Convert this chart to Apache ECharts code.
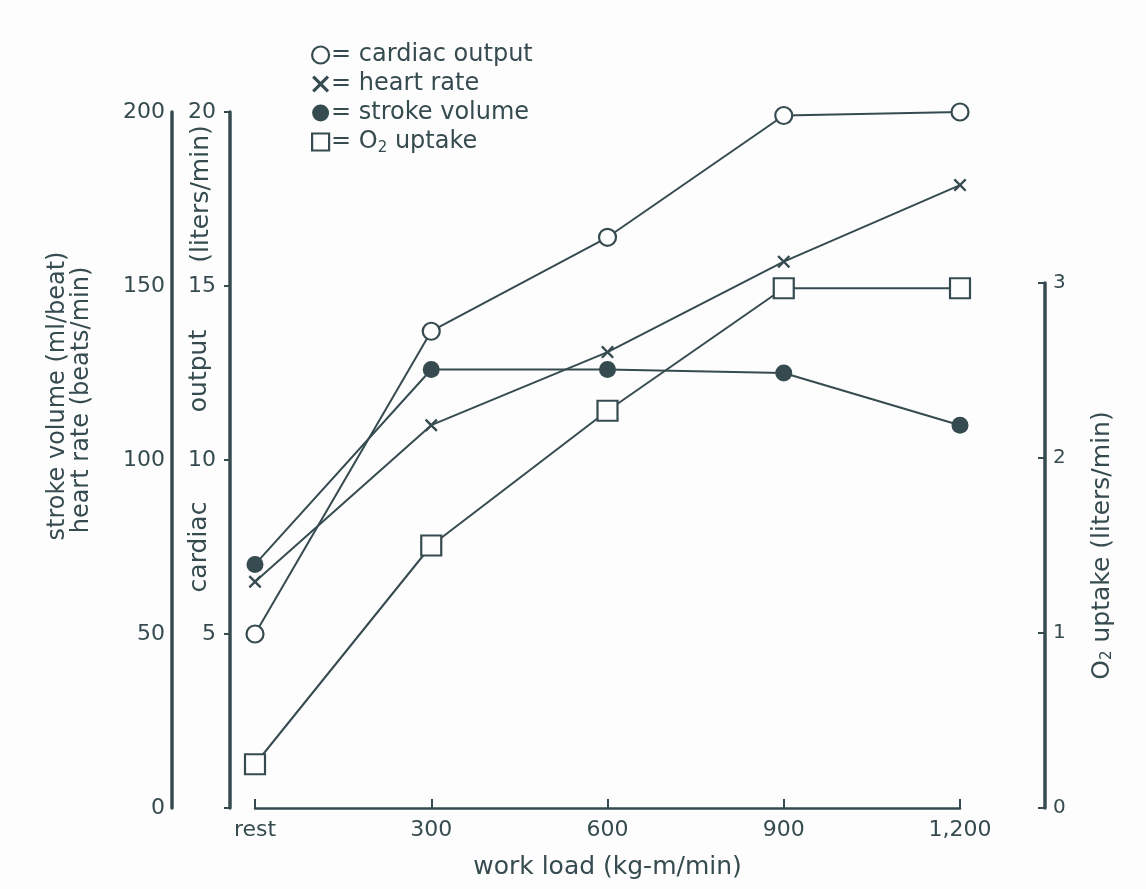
<!DOCTYPE html>
<html>
<head>
<meta charset="utf-8">
<script src="https://cdn.jsdelivr.net/npm/echarts@6/dist/echarts.min.js"></script>
<style>
html,body{margin:0;padding:0;background:#fdfdfd;}
#chart{width:1146px;height:889px;}
</style>
</head>
<body>
<div id="chart"></div>
<script>
const categories = ['rest', '300', '600', '900', '1,200'];
const cardiacOutput = [5, 13.7, 16.4, 19.9, 20];
const heartRate = [65, 110, 131, 157, 179];
const strokeVolume = [70, 126, 126, 125, 110];
const o2Uptake = [0.25, 1.5, 2.27, 2.97, 2.97];
const leftTicks = [0, 50, 100, 150, 200];
const cardiacTicks = [5, 10, 15, 20];
const o2Ticks = [0, 1, 2, 3];

const INK = '#364b50';
const FONT = '"DejaVu Sans", Verdana, sans-serif';
const crossPath = 'path://M0,1.3L1.3,0L5,3.7L8.7,0L10,1.3L6.3,5L10,8.7L8.7,10L5,6.3L1.3,10L0,8.7L3.7,5Z';

const chart = echarts.init(document.getElementById('chart'), null, {renderer: 'canvas'});

const lineStyle = {color: INK, width: 2};
const option = {
  backgroundColor: '#fdfdfd',
  animation: false,
  textStyle: {fontFamily: FONT, color: INK},
  legend: {
    orient: 'vertical',
    left: 306,
    top: 38,
    itemGap: 5,
    itemWidth: 17,
    itemHeight: 17,
    textStyle: {
      fontFamily: FONT, fontSize: 24, color: INK, padding: [0, 0, 0, -3],
      rich: {sub: {fontSize: 15, verticalAlign: 'bottom', padding: [12, 0, 0, 0], fontFamily: FONT, color: INK}}
    },
    formatter: function (name) {
      if (name === 'O2 uptake') return '= O{sub|2} uptake';
      return '= ' + name;
    },
    data: [
      {name: 'cardiac output', icon: 'circle', itemStyle: {color: '#fdfdfd', borderColor: INK, borderWidth: 2.2}},
      {name: 'heart rate', icon: crossPath, itemStyle: {color: INK, borderWidth: 0}},
      {name: 'stroke volume', icon: 'circle', itemStyle: {color: INK, borderWidth: 0}},
      {name: 'O2 uptake', icon: 'rect', itemStyle: {color: '#fdfdfd', borderColor: INK, borderWidth: 2.2}}
    ]
  },
  grid: [
    {left: 255, right: 186, top: 112, bottom: 81, containLabel: false},
    {left: 255, right: 186, top: 283, bottom: 81, containLabel: false}
  ],
  xAxis: [
    {
      type: 'category', gridIndex: 0, data: categories, boundaryGap: false,
      axisLine: {show: true, lineStyle: {color: INK, width: 2.5}},
      axisTick: {show: true, inside: true, length: 9, lineStyle: {color: INK, width: 2}},
      axisLabel: {fontFamily: FONT, fontSize: 22, color: INK, margin: 11},
      name: 'work load (kg-m/min)', nameLocation: 'middle', nameGap: 47,
      nameTextStyle: {fontFamily: FONT, fontSize: 25, color: INK}
    },
    {
      type: 'category', gridIndex: 1, data: categories, boundaryGap: false, show: false
    }
  ],
  yAxis: [
    {
      type: 'value', gridIndex: 0, position: 'left', offset: 83, min: 0, max: 200, interval: 50,
      axisLine: {show: true, lineStyle: {color: INK, width: 3.5}},
      axisTick: {show: false},
      axisLabel: {fontFamily: FONT, fontSize: 22, color: INK, margin: 7,
        formatter: v => leftTicks.includes(v) ? String(v) : ''},
      splitLine: {show: false}
    },
    {
      type: 'value', gridIndex: 0, position: 'left', offset: 25, min: 0, max: 20, interval: 5,
      axisLine: {show: true, lineStyle: {color: INK, width: 3.5}},
      axisTick: {show: true, length: 6, lineStyle: {color: INK, width: 2}},
      axisLabel: {fontFamily: FONT, fontSize: 22, color: INK, margin: 14,
        formatter: v => cardiacTicks.includes(v) ? String(v) : ''},
      splitLine: {show: false}
    },
    {
      type: 'value', gridIndex: 1, position: 'right', offset: 85, min: 0, max: 3, interval: 1,
      axisLine: {show: true, lineStyle: {color: INK, width: 3.5}},
      axisTick: {show: true, inside: true, length: 7, lineStyle: {color: INK, width: 2}},
      axisLabel: {fontFamily: FONT, fontSize: 20, color: INK, margin: 8,
        formatter: v => o2Ticks.includes(v) ? String(v) : ''},
      splitLine: {show: false},
      name: 'O{sub|2} uptake (liters/min)', nameLocation: 'middle', nameGap: 45, nameRotate: 90,
      nameTextStyle: {fontFamily: FONT, fontSize: 25, color: INK,
        rich: {sub: {fontSize: 15, fontFamily: FONT, color: INK, padding: [10, 0, 0, 0]}}}
    }
  ],
  graphic: [
    {type: 'text', x: 58, y: 396, rotation: Math.PI / 2,
      style: {text: 'stroke volume (ml/beat)', font: '24px ' + FONT, fill: INK, align: 'center', verticalAlign: 'middle'}},
    {type: 'text', x: 82, y: 400, rotation: Math.PI / 2,
      style: {text: 'heart rate (beats/min)', font: '24px ' + FONT, fill: INK, align: 'center', verticalAlign: 'middle'}},
    {type: 'text', x: 201, y: 194, rotation: Math.PI / 2,
      style: {text: '(liters/min)', font: '25px ' + FONT, fill: INK, align: 'center', verticalAlign: 'middle'}},
    {type: 'text', x: 199, y: 371, rotation: Math.PI / 2,
      style: {text: 'output', font: '25px ' + FONT, fill: INK, align: 'center', verticalAlign: 'middle'}},
    {type: 'text', x: 199, y: 547, rotation: Math.PI / 2,
      style: {text: 'cardiac', font: '25px ' + FONT, fill: INK, align: 'center', verticalAlign: 'middle'}}
  ],
  series: [
    {
      name: 'cardiac output', type: 'line', xAxisIndex: 0, yAxisIndex: 1, data: cardiacOutput,
      symbol: 'circle', symbolSize: 17, lineStyle: lineStyle,
      itemStyle: {color: '#fdfdfd', borderColor: INK, borderWidth: 2.2}, z: 3
    },
    {
      name: 'heart rate', type: 'line', xAxisIndex: 0, yAxisIndex: 0, data: heartRate,
      symbol: crossPath, symbolSize: 13, lineStyle: lineStyle,
      itemStyle: {color: INK, borderWidth: 0}, z: 3
    },
    {
      name: 'stroke volume', type: 'line', xAxisIndex: 0, yAxisIndex: 0, data: strokeVolume,
      symbol: 'circle', symbolSize: 17, lineStyle: lineStyle,
      itemStyle: {color: INK, borderWidth: 0}, z: 3
    },
    {
      name: 'O2 uptake', type: 'line', xAxisIndex: 1, yAxisIndex: 2, data: o2Uptake,
      symbol: 'rect', symbolSize: 20, lineStyle: lineStyle,
      itemStyle: {color: '#fdfdfd', borderColor: INK, borderWidth: 2.2}, z: 3
    }
  ]
};
chart.setOption(option);
</script>
</body>
</html>
